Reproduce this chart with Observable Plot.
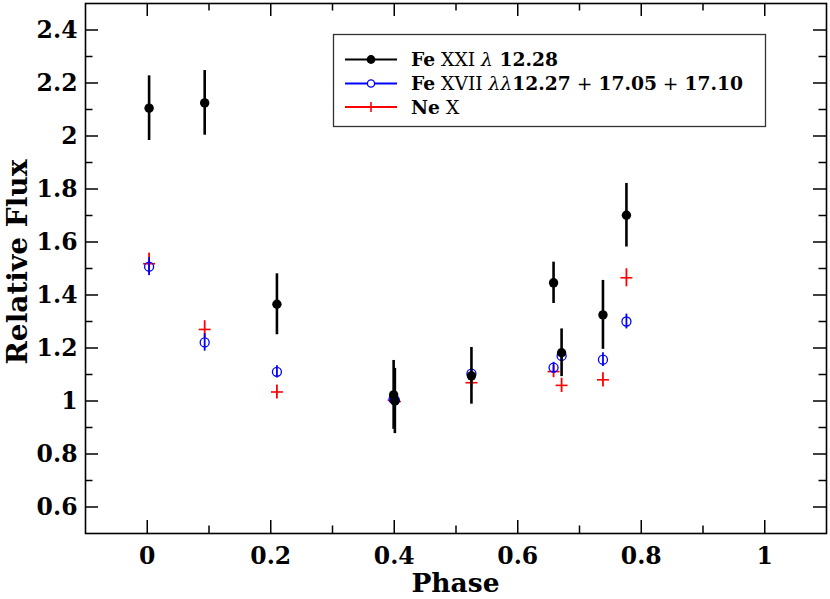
<!DOCTYPE html>
<html>
<head>
<meta charset="utf-8">
<script src="https://cdn.jsdelivr.net/npm/d3@7"></script>
<script src="https://cdn.jsdelivr.net/npm/@observablehq/plot@0.6"></script>
<style>
  body { margin: 0; background: #fff; }
  svg { display: block; }
</style>
</head>
<body>
<div id="chart"></div>
<script>
// ---- data ----
const phase     = [0.003, 0.093, 0.210, 0.399, 0.401, 0.525, 0.658, 0.671, 0.738, 0.776];
const feXXI     = [2.105, 2.125, 1.365, 1.023, 1.000, 1.095, 1.446, 1.182, 1.325, 1.701];
const feXXIErr  = [0.122, 0.122, 0.115, 0.130, 0.123, 0.107, 0.078, 0.090, 0.130, 0.120];
const feXVII    = [1.507, 1.221, 1.110, 1.008, 1.003, 1.103, 1.126, 1.170, 1.156, 1.300];
const feXVIIErr = [0.034, 0.033, 0.023, 0.020, 0.020, 0.020, 0.020, 0.020, 0.026, 0.028];
const neX       = [1.518, 1.270, 1.034, 1.003, 0.998, 1.069, 1.111, 1.059, 1.080, 1.465];
const neXErr    = [0.040, 0.033, 0.026, 0.020, 0.020, 0.020, 0.023, 0.027, 0.027, 0.034];

const xMajor = [0, 0.2, 0.4, 0.6, 0.8, 1];
const xMinor = [0.1, 0.3, 0.5, 0.7, 0.9];
const yMajor = [0.6, 0.8, 1, 1.2, 1.4, 1.6, 1.8, 2, 2.2, 2.4];
const yMinor = [0.7, 0.9, 1.1, 1.3, 1.5, 1.7, 1.9, 2.1, 2.3];

const xTitle = "Phase";
const yTitle = "Relative Flux";
const seriesNames = ["Fe XXI", "Fe XVII", "Ne X"];
const seriesColors = ["#000000", "#0000ff", "#ff0000"];
// legend label pieces: [text, weight, style]
const legendLabels = [
  [["Fe", "bold"], [" XXI ", "normal"], ["λ", "normal", "italic"], [" 12.28", "bold"]],
  [["Fe", "bold"], [" XVII ", "normal"], ["λλ", "normal", "italic"], ["12.27", "bold"], [" + ", "normal"], ["17.05", "bold"], [" + ", "normal"], ["17.10", "bold"]],
  [["Ne", "bold"], [" X", "normal"]]
];

const rows = phase.map((p, i) => ({
  phase: p,
  a: feXXI[i], aLo: feXXI[i] - feXXIErr[i], aHi: feXXI[i] + feXXIErr[i],
  b: feXVII[i], bLo: feXVII[i] - feXVIIErr[i], bHi: feXVII[i] + feXVIIErr[i],
  c: neX[i], cLo: neX[i] - neXErr[i], cHi: neX[i] + neXErr[i]
}));

// ---- layout ----
const W = 830, H = 599;
const mL = 85, mR = 4, mT = 3, mB = 66;
const fw = W - mL - mR, fh = H - mT - mB;
const big = 13, small = 7.5;
const font = "DejaVu Serif";

// horizontal dash symbol for the Ne X "+" markers
const hbar = {
  draw(ctx, size) {
    const r = Math.sqrt(size / Math.PI);
    ctx.moveTo(-r, 0);
    ctx.lineTo(r, 0);
  }
};

const tickStyle = {stroke: "black", strokeWidth: 1.5};

const chart = Plot.plot({
  width: W, height: H,
  marginLeft: mL, marginRight: mR, marginTop: mT, marginBottom: mB,
  style: {fontFamily: font, fontWeight: "bold", fontSize: "23.5px", background: "white", color: "black"},
  x: {domain: [-0.1, 1.1]},
  y: {domain: [0.5, 2.5]},
  marks: [
    // inward ticks: left
    Plot.tickY(yMajor, {y: d => d, insetRight: fw - big, ...tickStyle}),
    Plot.tickY(yMinor, {y: d => d, insetRight: fw - small, ...tickStyle}),
    // right
    Plot.tickY(yMajor, {y: d => d, insetLeft: fw - big, ...tickStyle}),
    Plot.tickY(yMinor, {y: d => d, insetLeft: fw - small, ...tickStyle}),
    // bottom
    Plot.tickX(xMajor, {x: d => d, insetTop: fh - big, ...tickStyle}),
    Plot.tickX(xMinor, {x: d => d, insetTop: fh - small, ...tickStyle}),
    // top
    Plot.tickX(xMajor, {x: d => d, insetBottom: fh - big, ...tickStyle}),
    Plot.tickX(xMinor, {x: d => d, insetBottom: fh - small, ...tickStyle}),

    Plot.axisX({ticks: xMajor, tickSize: 0, tickPadding: 14, tickFormat: d => String(d), label: null}),
    Plot.axisY({ticks: yMajor, tickSize: 0, tickPadding: 8, tickFormat: d => String(d), label: null}),

    // Ne X
    Plot.ruleX(rows, {x: "phase", y1: "cLo", y2: "cHi", stroke: seriesColors[2], strokeWidth: 1.8}),
    Plot.dot(rows, {x: "phase", y: "c", symbol: hbar, r: 6, stroke: seriesColors[2], strokeWidth: 1.6, fill: "none"}),
    // Fe XVII
    Plot.ruleX(rows, {x: "phase", y1: "bLo", y2: "bHi", stroke: seriesColors[1], strokeWidth: 1.8}),
    Plot.dot(rows, {x: "phase", y: "b", r: 4.5, stroke: seriesColors[1], strokeWidth: 1.3, fill: "none"}),
    // Fe XXI
    Plot.ruleX(rows, {x: "phase", y1: "aLo", y2: "aHi", stroke: seriesColors[0], strokeWidth: 2.6}),
    Plot.dot(rows, {x: "phase", y: "a", r: 4.7, fill: seriesColors[0], stroke: "none"}),

    Plot.frame({stroke: "black", strokeWidth: 1.6})
  ]
});

const svg = d3.select(chart);

// ---- axis titles ----
svg.append("text").text(xTitle)
  .attr("x", mL + fw / 2).attr("y", 592)
  .attr("text-anchor", "middle").attr("font-family", font).attr("font-weight", "bold")
  .attr("font-size", 26.5).attr("fill", "black");
svg.append("text").text(yTitle)
  .attr("transform", `translate(27,${mT + fh / 2 - 6}) rotate(-90)`)
  .attr("text-anchor", "middle").attr("font-family", font).attr("font-weight", "bold")
  .attr("font-size", 28).attr("fill", "black");

// ---- legend ----
const lg = svg.append("g").attr("font-family", font).attr("font-size", 18.7).attr("text-anchor", "start");
lg.append("rect").attr("x", 333.5).attr("y", 34.5).attr("width", 432).attr("height", 92)
  .attr("fill", "white").attr("stroke", "#333").attr("stroke-width", 1.3);
const rowY = [59.5, 83.5, 107];
seriesNames.forEach((name, i) => {
  const y = rowY[i];
  lg.append("line").attr("x1", 345).attr("x2", 397).attr("y1", y).attr("y2", y)
    .attr("stroke", seriesColors[i]).attr("stroke-width", 1.8);
  if (i === 0) lg.append("circle").attr("cx", 371).attr("cy", y).attr("r", 4.4).attr("fill", "black");
  if (i === 1) lg.append("circle").attr("cx", 371).attr("cy", y).attr("r", 3.6).attr("fill", "white").attr("stroke", seriesColors[1]).attr("stroke-width", 1.3);
  if (i === 2) lg.append("line").attr("x1", 371).attr("x2", 371).attr("y1", y - 5).attr("y2", y + 5).attr("stroke", seriesColors[2]).attr("stroke-width", 1.6);
  const t = lg.append("text").attr("x", 411).attr("y", y + 6.5).attr("fill", "black").attr("text-anchor", "start").style("white-space", "pre");
  legendLabels[i].forEach(([s, w, st]) => {
    t.append("tspan").text(s).attr("font-weight", w).attr("font-style", st || "normal");
  });
});

document.getElementById("chart").appendChild(chart);
</script>
</body>
</html>
